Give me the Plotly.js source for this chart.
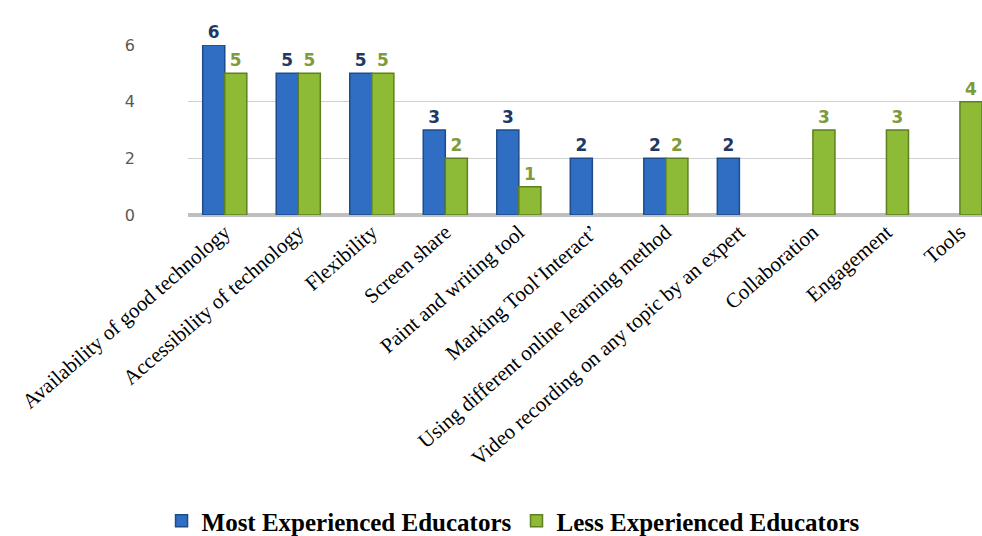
<!DOCTYPE html>
<html><head><meta charset="utf-8">
<script src="https://cdn.plot.ly/plotly-3.0.1.min.js"></script>
<style>html,body{margin:0;padding:0;background:#fff}#chart{width:982px;height:536px}</style>
</head><body><div id="chart"></div>
<script>
const categories = ["Availability of good technology","Accessibility of technology","Flexibility","Screen share","Paint and writing tool","Marking Tool\u2018Interact\u2019","Using different online learning method","Video recording on any topic by an expert","Collaboration","Engagement","Tools"];
const mostExperienced = [6,5,5,3,3,2,2,2,null,null,null];
const lessExperienced = [5,5,5,2,1,null,2,null,3,3,4];
const seriesNames = ["Most Experienced Educators","Less Experienced Educators"];
const yTicks = [0,2,4,6];

const labelText = arr => arr.map(v => v === null ? "" : String(v));
const traces = [
  {type:"bar", name:seriesNames[0], x:categories, y:mostExperienced, text:labelText(mostExperienced),
   textposition:"outside", cliponaxis:false,
   textfont:{family:"DejaVu Sans", size:17, color:"#1F3864", weight:"bold"},
   marker:{color:"#2F6EC2", line:{color:"#1E4C8A", width:1.5}}},
  {type:"bar", name:seriesNames[1], x:categories, y:lessExperienced, text:labelText(lessExperienced),
   textposition:"outside", cliponaxis:false,
   textfont:{family:"DejaVu Sans", size:17, color:"#7F9A3C", weight:"bold"},
   marker:{color:"#8DBB35", line:{color:"#5F8020", width:1.5}}}
];
const layout = {
  width:982, height:536,
  margin:{l:188, r:0, t:45, b:321, autoexpand:false},
  paper_bgcolor:"#fff", plot_bgcolor:"#fff",
  barmode:"group", bargap:0.4, bargroupgap:0,
  showlegend:true,
  legend:{orientation:"h", x:0.41, xanchor:"center", y:-1.8, yanchor:"middle", itemwidth:30,
    font:{family:"Liberation Serif", size:25, color:"#000", weight:"bold"}},
  xaxis:{type:"category", range:[-0.5,10.3], tickangle:-41, showgrid:false,
    tickfont:{family:"Liberation Serif", size:21, color:"#000"}, ticks:"", showline:false, zeroline:false, automargin:false},
  yaxis:{range:[0,6], tickvals:yTicks, ticktext:yTicks.map(String), showgrid:true, gridcolor:"#D0D0D0", gridwidth:1.5,
    zeroline:true, zerolinecolor:"#BFBFBF", zerolinewidth:4, ticklabelstandoff:52,
    tickfont:{family:"DejaVu Sans", size:16, color:"#595959"}, showline:false, automargin:false}
};
Plotly.newPlot("chart", traces, layout, {displayModeBar:false, staticPlot:true});
</script></body></html>
